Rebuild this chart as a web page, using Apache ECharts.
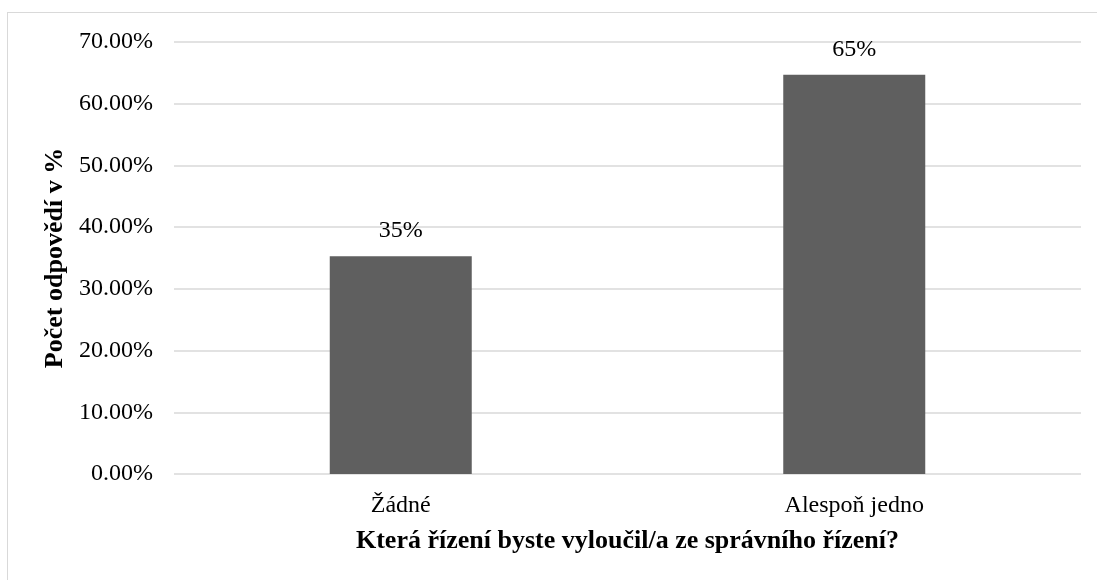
<!DOCTYPE html>
<html>
<head>
<meta charset="utf-8">
<script src="https://cdn.jsdelivr.net/npm/echarts@6/dist/echarts.min.js"></script>
<style>
    html, body { margin: 0; padding: 0; background: #fff; }
    #frame { position: absolute; left: 7px; top: 12px; width: 1100px; height: 580px; border: 1px solid #d9d9d9; box-sizing: border-box; }
    #chart { position: absolute; left: 0; top: 0; width: 1097px; height: 580px; }
</style>
</head>
<body>
<div id="frame"></div>
<div id="chart"></div>
<script>
    var categories = ['Žádné', 'Alespoň jedno'];
    var values = [35.3, 64.7];
    var valueLabels = ['35%', '65%'];
    var xTitle = 'Která řízení byste vyloučil/a ze správního řízení?';
    var yTitle = 'Počet odpovědí v %';

    var myChart = echarts.init(document.getElementById('chart'));
    var font = '"Liberation Serif", "Times New Roman", serif';

    var option = {
        animation: false,
        grid: { left: 174, right: 16, top: 42, bottom: 106, containLabel: false },
        xAxis: {
            type: 'category',
            data: categories,
            name: xTitle,
            nameLocation: 'middle',
            nameGap: 54,
            nameTextStyle: { fontFamily: font, fontWeight: 'bold', fontSize: 26, color: '#000' },
            axisLine: { show: false },
            axisTick: { show: false },
            axisLabel: { fontFamily: font, fontSize: 24, color: '#000', margin: 20 }
        },
        yAxis: {
            type: 'value',
            min: 0,
            max: 70,
            interval: 10,
            name: yTitle,
            nameLocation: 'middle',
            nameGap: 102,
            nameRotate: 90,
            nameTextStyle: { fontFamily: font, fontWeight: 'bold', fontSize: 26, color: '#000' },
            axisLine: { show: false },
            axisTick: { show: false },
            splitLine: { lineStyle: { color: '#d9d9d9', width: 1.5 } },
            axisLabel: {
                fontFamily: font, fontSize: 24, color: '#000', margin: 21,
                formatter: function (v) { return v.toFixed(2) + '%'; }
            }
        },
        series: [{
            type: 'bar',
            data: values,
            barWidth: 142,
            itemStyle: { color: '#5f5f5f' },
            label: {
                show: true,
                position: 'top',
                distance: 13,
                fontFamily: font,
                fontSize: 24,
                color: '#000',
                formatter: function (p) { return valueLabels[p.dataIndex]; }
            }
        }]
    };

    myChart.setOption(option);
</script>
</body>
</html>
